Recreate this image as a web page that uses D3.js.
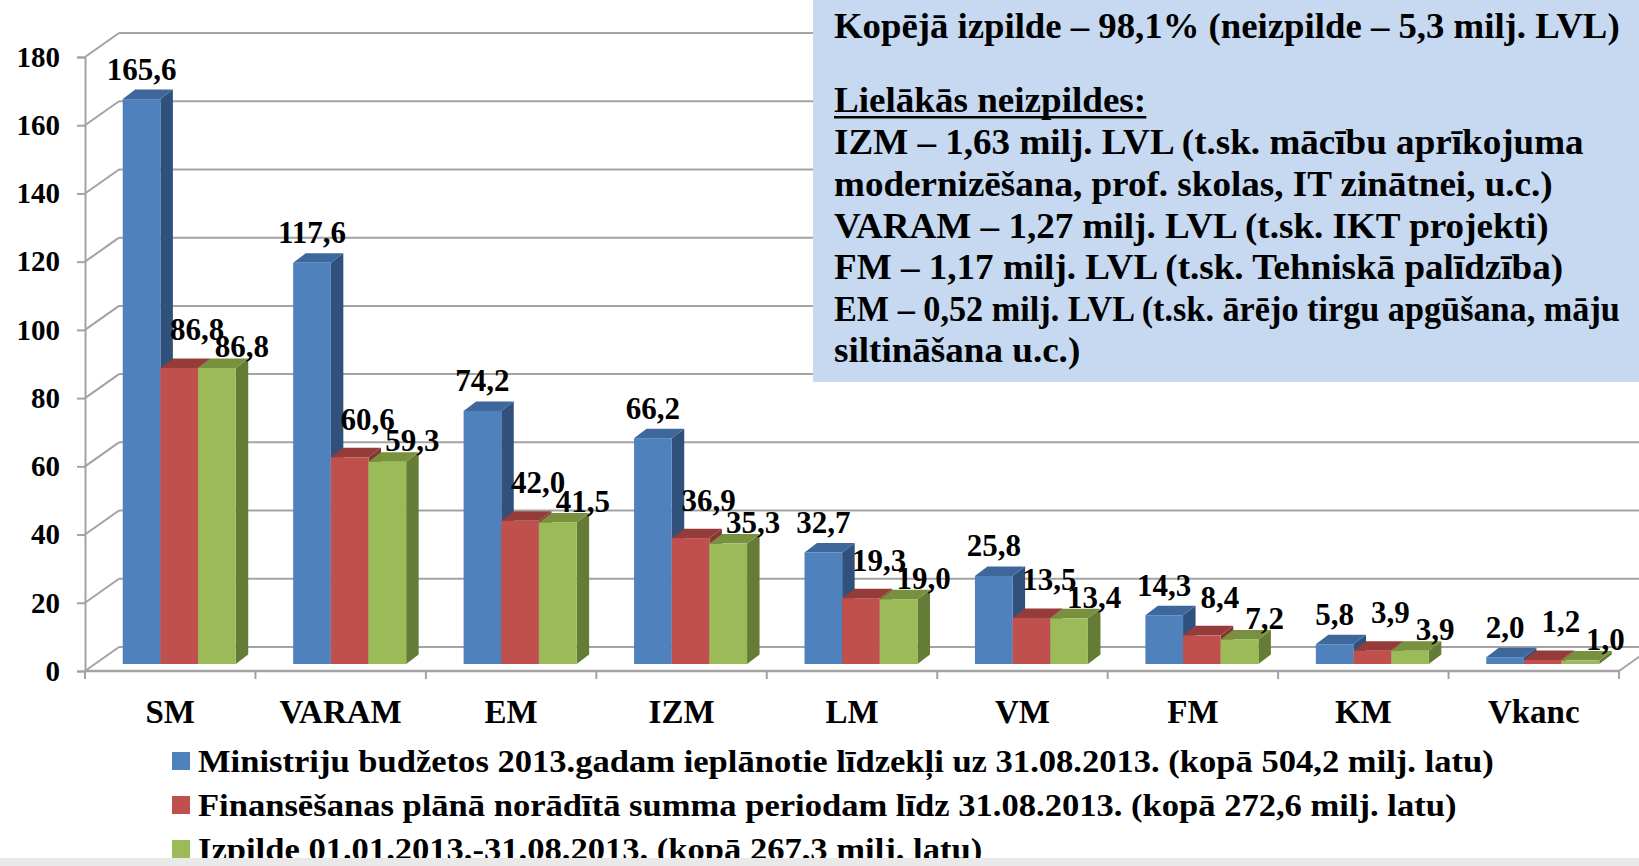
<!DOCTYPE html>
<html>
<head>
<meta charset="utf-8">
<script src="https://cdn.jsdelivr.net/npm/d3@7"></script>
<style>
  html, body { margin: 0; padding: 0; background: #fff; overflow: hidden; }
  text { font-family: "Liberation Serif", "Times New Roman", serif; font-weight: bold; fill: #000; }
</style>
</head>
<body>
<svg id="mainSVG" width="1639" height="866"></svg>
<script>
// dati
var categories = ["SM", "VARAM", "EM", "IZM", "LM", "VM", "FM", "KM", "Vkanc"];
var planots = [165.6, 117.6, 74.2, 66.2, 32.7, 25.8, 14.3, 5.8, 2.0];
var finPlans = [86.8, 60.6, 42.0, 36.9, 19.3, 13.5, 8.4, 3.9, 1.2];
var izpilde = [86.8, 59.3, 41.5, 35.3, 19.0, 13.4, 7.2, 3.9, 1.0];
var seriesNames = [
  "Ministriju budžetos 2013.gadam ieplānotie līdzekļi uz 31.08.2013. (kopā 504,2 milj. latu)",
  "Finansēšanas plānā norādītā summa periodam līdz 31.08.2013. (kopā 272,6 milj. latu)",
  "Izpilde 01.01.2013.-31.08.2013. (kopā 267,3 milj. latu)"
];
var yTicks = [0, 20, 40, 60, 80, 100, 120, 140, 160, 180];
var infoTitle = "Kopējā izpilde – 98,1% (neizpilde – 5,3 milj. LVL)";
var infoHeading = "Lielākās neizpildes:";
var infoLines = [
  "IZM – 1,63 milj. LVL (t.sk. mācību aprīkojuma",
  "modernizēšana, prof. skolas, IT zinātnei, u.c.)",
  "VARAM – 1,27 milj. LVL (t.sk. IKT projekti)",
  "FM – 1,17 milj. LVL (t.sk. Tehniskā palīdzība)",
  "EM – 0,52 milj. LVL (t.sk. ārējo tirgu apgūšana, māju",
  "siltināšana u.c.)"
];

var svg = d3.select("#mainSVG");
var W = 1639, H = 866;

// krāsas: priekša, augša, sāns
var colors = [
  {front: "#4f81bd", top: "#3e679b", side: "#30517b"},
  {front: "#c0504d", top: "#953c39", side: "#873533"},
  {front: "#9bbb59", top: "#77913f", side: "#647c35"}
];

// 3D ģeometrija
var wallDx = 34, wallDy = -24;   // sienas dziļums
var barShiftX = 10, barShiftY = -7; // stabiņu plakne
var depthX = 12.5, depthY = -9.5;   // stabiņa dziļums

var yFront = d3.scaleLinear().domain([0, 180]).range([671, 57]);
var x0 = d3.scaleBand().domain(categories).range([85, 1619]);
var bw = x0.bandwidth();
var barW = bw * 0.221;
var x1 = d3.scaleBand().domain([0, 1, 2])
  .range([(bw - 3 * barW) / 2 - 1, (bw - 3 * barW) / 2 - 1 + 3 * barW]);

var fmt = d3.formatLocale({decimal: ",", thousands: " ", grouping: [3], currency: ["", ""]}).format(".1f");

var gridColor = "#a3a3a3";

// aizmugurējā siena
svg.append("g").selectAll("line").data(yTicks).enter().append("line")
  .attr("x1", 85 + wallDx).attr("x2", W)
  .attr("y1", function(d) { return yFront(d) + wallDy; })
  .attr("y2", function(d) { return yFront(d) + wallDy; })
  .attr("stroke", gridColor).attr("stroke-width", 2);

// kreisā siena
svg.append("g").selectAll("line").data(yTicks).enter().append("line")
  .attr("x1", 85).attr("x2", 85 + wallDx)
  .attr("y1", function(d) { return yFront(d); })
  .attr("y2", function(d) { return yFront(d) + wallDy; })
  .attr("stroke", gridColor).attr("stroke-width", 2);

// Y ass
var yAxis = d3.axisLeft(yFront).tickValues(yTicks).tickSize(8).tickPadding(17);
var yAxisGroup = svg.append("g").attr("class", "axis").attr("transform", "translate(85,0)").call(yAxis);
yAxisGroup.select(".domain").attr("stroke", gridColor).attr("stroke-width", 2);
yAxisGroup.selectAll(".tick line").attr("stroke", gridColor).attr("stroke-width", 2);
yAxisGroup.selectAll(".tick text")
  .style("font-family", "'Liberation Serif', 'Times New Roman', serif")
  .style("font-weight", "bold").style("font-size", "29px").attr("fill", "#000");

// grīda
svg.append("line").attr("x1", 85).attr("x2", 1619).attr("y1", yFront(0)).attr("y2", yFront(0))
  .attr("stroke", gridColor).attr("stroke-width", 2.5);
svg.append("line").attr("x1", 1619).attr("x2", 1619 + wallDx).attr("y1", yFront(0)).attr("y2", yFront(0) + wallDy)
  .attr("stroke", gridColor).attr("stroke-width", 2);

// X ass iedaļas
var xTicks = categories.map(function(c) { return x0(c); }).concat([1619]);
svg.append("g").selectAll("line").data(xTicks).enter().append("line")
  .attr("x1", function(d) { return d; }).attr("x2", function(d) { return d; })
  .attr("y1", yFront(0)).attr("y2", yFront(0) + 8)
  .attr("stroke", gridColor).attr("stroke-width", 2);

// stabiņi
var seriesData = [planots, finPlans, izpilde];
var bars = [];
categories.forEach(function(c, i) {
  seriesData.forEach(function(arr, s) {
    var xl = x0(c) + x1(s) + barShiftX;
    var yt = yFront(arr[i]) + barShiftY;
    var yb = yFront(0) + barShiftY;
    bars.push({cat: c, s: s, v: arr[i], xl: xl, xr: xl + barW, yt: yt, yb: yb});
  });
});

var barG = svg.append("g").selectAll("g").data(bars).enter().append("g");
barG.append("path") // sāns
  .attr("d", function(d) {
    return "M" + d.xr + "," + d.yb + "L" + (d.xr + depthX) + "," + (d.yb + depthY) +
      "L" + (d.xr + depthX) + "," + (d.yt + depthY) + "L" + d.xr + "," + d.yt + "Z";
  })
  .attr("fill", function(d) { return colors[d.s].side; });
barG.append("path") // augša
  .attr("d", function(d) {
    return "M" + d.xl + "," + d.yt + "L" + (d.xl + depthX) + "," + (d.yt + depthY) +
      "L" + (d.xr + depthX) + "," + (d.yt + depthY) + "L" + d.xr + "," + d.yt + "Z";
  })
  .attr("fill", function(d) { return colors[d.s].top; });
barG.append("rect") // priekša
  .attr("x", function(d) { return d.xl; })
  .attr("y", function(d) { return d.yt; })
  .attr("width", barW)
  .attr("height", function(d) { return d.yb - d.yt; })
  .attr("fill", function(d) { return colors[d.s].front; });

// datu etiķetes
var labelDx = [0, 18, 25];
var labelDy = [-10, -18, -1];
svg.append("g").selectAll("text").data(bars).enter().append("text")
  .attr("x", function(d) { return (d.xl + d.xr) / 2 + labelDx[d.s]; })
  .attr("y", function(d) { return d.yt + depthY + labelDy[d.s]; })
  .attr("text-anchor", "middle")
  .style("font-size", "31px")
  .text(function(d) { return fmt(d.v); });

// kategoriju nosaukumi
svg.append("g").selectAll("text").data(categories).enter().append("text")
  .attr("x", function(d) { return x0(d) + bw / 2; })
  .attr("y", 723)
  .attr("text-anchor", "middle")
  .style("font-size", "33px")
  .text(function(d) { return d; });

// informācijas lodziņš
svg.append("rect").attr("x", 813).attr("y", 0).attr("width", W - 813).attr("height", 382)
  .attr("fill", "#c6d9f1");
var infoY = [38, 112, 154, 196, 238, 279, 321, 362];
var infoSx = 1.06, infoMaxW = 1620 - 834;
var infoG = svg.append("g").style("font-size", "35px");
var allInfo = [infoTitle, infoHeading].concat(infoLines);
infoG.selectAll("text").data(allInfo).enter().append("text")
  .attr("x", 0).attr("y", 0)
  .text(function(d) { return d; })
  .each(function(d, i) {
    // katrai rindai savs horizontālais mērogs, lai garākās ietilptu lodziņā
    var len = this.getComputedTextLength();
    var sx = Math.min(infoSx, infoMaxW / len);
    d3.select(this).attr("transform", "translate(834," + infoY[i === 0 ? 0 : i] + ") scale(" + sx + ",1)");
    if (i === 1) {
      infoG.append("rect").attr("x", 834).attr("y", infoY[1] + 4)
        .attr("width", len * sx).attr("height", 2.5).attr("fill", "#000");
    }
  });

// leģenda
var legend = svg.append("g").selectAll("g").data(seriesNames).enter().append("g")
  .attr("transform", function(d, i) { return "translate(172," + (752 + i * 44) + ")"; });
legend.append("rect").attr("width", 18).attr("height", 18)
  .attr("fill", function(d, i) { return colors[i].front; });
legend.append("text").attr("transform", "translate(26,20) scale(1.08,1)")
  .style("font-size", "32px")
  .text(function(d) { return d; });

// apakšējā josla
svg.append("rect").attr("x", 0).attr("y", 858).attr("width", W).attr("height", 8).attr("fill", "#e9e9e9");
</script>
</body>
</html>
